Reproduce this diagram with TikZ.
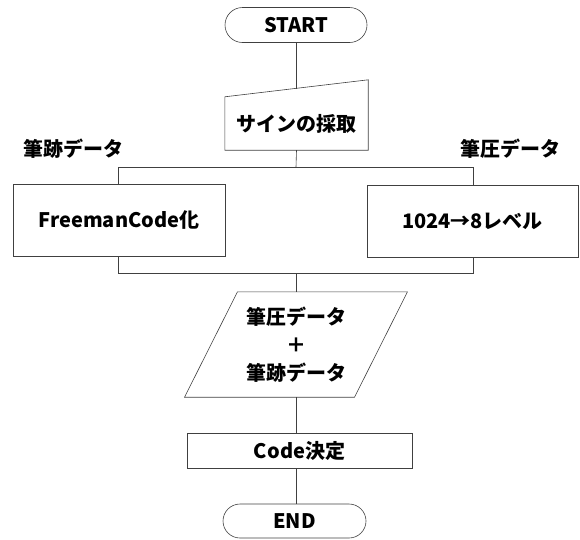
\documentclass[tikz,border=0pt]{standalone}
\usepackage{fontspec}
\setmainfont{Noto Sans CJK JP}
\usetikzlibrary{shapes.misc}
\begin{document}
\begin{tikzpicture}[x=1pt,y=1pt,
  every node/.style={font=\fontsize{20}{28}\selectfont\bfseries},
  ln/.style={draw=black!75,line width=0.6pt},
  term/.style={ln,rounded rectangle,minimum width=142pt,minimum height=35pt,inner sep=0pt},
  proc/.style={ln,rectangle,inner sep=0pt},
  plain/.style={inner sep=0pt},
]
\useasboundingbox (0,0) rectangle (580,-539);
\node[term] (start) at (296,-25) {START};
\node[plain,minimum width=143pt,minimum height=53pt] (sign) at (296.5,-123.5) {サインの採取};
\draw[ln] (sign.south west) -- (sign.north west) -- ([yshift=17pt]sign.north east) -- (sign.south east) -- cycle;
\coordinate (signtop) at (296,-88.6);
\node[plain] (lbl1) at (73,-149) {筆跡データ};
\node[plain] (lbl2) at (510,-149) {筆圧データ};
\node[proc,minimum width=212pt,minimum height=72pt] (fc) at (119,-220) {FreemanCode化};
\node[proc,minimum width=211pt,minimum height=72pt] (lv) at (472.5,-221) {1024→8レベル};
\coordinate (split) at (296,-167);
\coordinate (bl) at (118,-167);
\coordinate (br) at (473,-167);
\coordinate (merge) at (296,-273);
\coordinate (ml) at (118,-273);
\coordinate (mr) at (473,-273);
\node[plain,minimum width=116pt,minimum height=105pt,align=center] (data) at (296,-344.5) {筆圧データ\\＋\\筆跡データ};
\draw[ln] ([xshift=-58.5pt]data.north) -- ([xshift=111.5pt]data.north) -- ([xshift=58.5pt]data.south) -- ([xshift=-111.5pt]data.south) -- cycle;
\node[proc,minimum width=225pt,minimum height=35pt] (code) at (299.5,-450.5) {Code決定};
\node[term,minimum width=143pt,minimum height=34pt] (end) at (294.5,-521) {END};
\draw[ln] (start.south) -- (signtop);
\draw[ln] (sign.south) -- (split);
\draw[ln] (bl) -- (br);
\draw[ln] (bl) -- (fc.north -| bl);
\draw[ln] (br) -- (lv.north -| br);
\draw[ln] (fc.south -| ml) -- (ml) -- (mr) -- (lv.south -| mr);
\draw[ln] (merge) -- (data.north);
\draw[ln] (data.south) -- (data.south |- code.north);
\draw[ln] (code.south -| data.south) -- (end.north -| data.south);
\end{tikzpicture}
\end{document}
